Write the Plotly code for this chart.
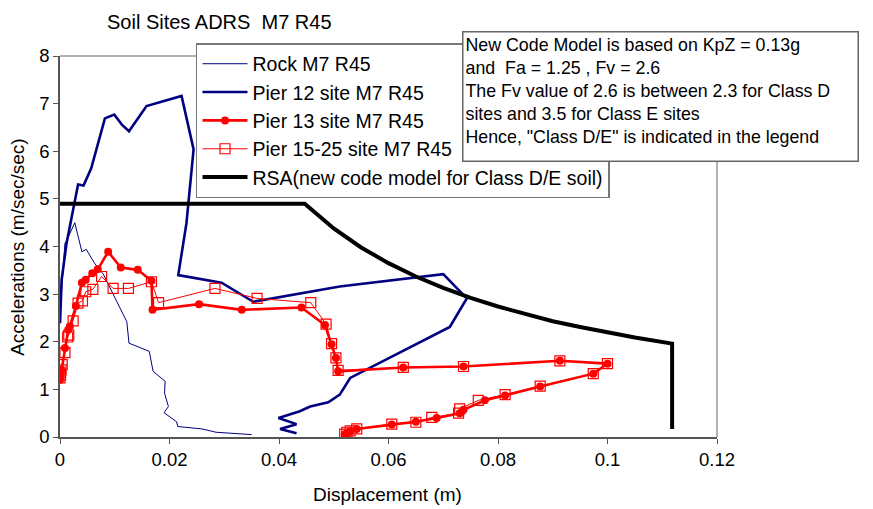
import plotly.graph_objects as go

# Spectral displacement (m) vs spectral acceleration (m/sec/sec) curves
rock_x = [0.0, 0.0009, 0.0012, 0.0027, 0.0040, 0.0048, 0.0063, 0.0070, 0.0079, 0.0122,
          0.0126, 0.0163, 0.0170, 0.0192, 0.0191, 0.0198, 0.0190, 0.0213, 0.0215, 0.0259,
          0.0285, 0.0350]
rock_y = [2.60, 4.07, 4.12, 4.50, 3.89, 3.94, 3.65, 3.55, 3.42, 2.42,
          1.97, 1.80, 1.38, 1.17, 0.92, 0.64, 0.51, 0.32, 0.22, 0.17,
          0.10, 0.05]

pier12_x = [0.0, 0.0003, 0.0012, 0.0033, 0.0043, 0.0057, 0.0082, 0.0099, 0.0113, 0.0126,
            0.0158, 0.0222, 0.0244, 0.0231, 0.0216, 0.0295, 0.0353, 0.0511, 0.0700, 0.0743,
            0.0712, 0.0530, 0.0511, 0.0490, 0.0457, 0.0438, 0.0399, 0.0432, 0.0402, 0.0432]
pier12_y = [2.39, 3.30, 4.07, 5.30, 5.28, 5.64, 6.69, 6.77, 6.56, 6.42,
            6.95, 7.16, 6.04, 4.49, 3.40, 3.24, 2.84, 3.16, 3.42, 2.91,
            2.31, 1.24, 0.89, 0.73, 0.64, 0.54, 0.40, 0.27, 0.17, 0.08]

pier13_x = [0.0, 0.0001, 0.0003, 0.0009, 0.0015, 0.0018, 0.0029, 0.0040, 0.0047, 0.0059,
            0.0069, 0.0088, 0.0111, 0.0142, 0.0167, 0.0169, 0.0254, 0.0332, 0.0441, 0.0484,
            0.0496, 0.0504, 0.0508, 0.0627, 0.0737, 0.0913, 0.1000, 0.0974, 0.0877, 0.0813,
            0.0776, 0.0737, 0.0730, 0.0688, 0.0650, 0.0606, 0.0542, 0.0530, 0.0524, 0.0520]
pier13_y = [1.20, 1.27, 1.41, 1.87, 2.25, 2.32, 2.75, 3.24, 3.30, 3.44,
            3.52, 3.89, 3.56, 3.51, 3.28, 2.67, 2.79, 2.67, 2.72, 2.35,
            1.95, 1.66, 1.38, 1.46, 1.48, 1.60, 1.54, 1.33, 1.06, 0.87,
            0.77, 0.57, 0.50, 0.40, 0.32, 0.26, 0.17, 0.12, 0.08, 0.05]

pier15_x = [0.0, 0.0001, 0.0002, 0.0004, 0.0009, 0.0014, 0.0016, 0.0024, 0.0033, 0.0041,
            0.0047, 0.0060, 0.0076, 0.0097, 0.0125, 0.0167, 0.0180, 0.0283, 0.0360, 0.0458,
            0.0486, 0.0496, 0.0504, 0.0508, 0.0627, 0.0737, 0.0913, 0.1000, 0.0974, 0.0877,
            0.0813, 0.0764, 0.0730, 0.0728, 0.0679, 0.0650, 0.0606, 0.0542, 0.0530, 0.0524,
            0.0520]
pier15_y = [1.24, 1.30, 1.41, 1.52, 1.77, 2.10, 2.14, 2.44, 2.81, 2.86,
            3.05, 3.10, 3.37, 3.12, 3.12, 3.26, 2.82, 3.12, 2.91, 2.82,
            2.37, 1.96, 1.66, 1.40, 1.46, 1.48, 1.60, 1.54, 1.33, 1.07,
            0.89, 0.77, 0.59, 0.50, 0.41, 0.31, 0.27, 0.17, 0.13, 0.10,
            0.06]

rsa_x = [0.0, 0.0447, 0.050, 0.055, 0.060, 0.065, 0.070, 0.075, 0.080, 0.085,
         0.090, 0.095, 0.100, 0.105, 0.1118, 0.1118]
rsa_y = [4.90, 4.90, 4.38, 3.98, 3.65, 3.37, 3.13, 2.92, 2.74, 2.58,
         2.43, 2.31, 2.19, 2.09, 1.96, 0.17]

x_ticks = [0, 0.02, 0.04, 0.06, 0.08, 0.1, 0.12]
x_tick_text = ["0", "0.02", "0.04", "0.06", "0.08", "0.1", "0.12"]
y_ticks = [0, 1, 2, 3, 4, 5, 6, 7, 8]

NAVY = "#000080"
RED = "#FF0000"
FONT = "Liberation Sans, Arial, sans-serif"

fig = go.Figure()
fig.add_trace(go.Scatter(x=rock_x, y=rock_y, mode="lines", name="Rock M7 R45",
                         line=dict(color=NAVY, width=1)))
fig.add_trace(go.Scatter(x=pier12_x, y=pier12_y, mode="lines", name="Pier 12 site M7 R45",
                         line=dict(color=NAVY, width=2.6)))
fig.add_trace(go.Scatter(x=pier13_x, y=pier13_y, mode="lines+markers", name="Pier 13 site M7 R45",
                         line=dict(color=RED, width=2.6),
                         marker=dict(symbol="circle", size=8, color=RED)))
fig.add_trace(go.Scatter(x=pier15_x, y=pier15_y, mode="lines+markers", name="Pier 15-25 site M7 R45",
                         line=dict(color=RED, width=1),
                         marker=dict(symbol="square-open", size=10, color=RED,
                                     line=dict(width=1.2, color=RED))))
fig.add_trace(go.Scatter(x=rsa_x, y=rsa_y, mode="lines",
                         name="RSA(new code model for Class D/E soil)",
                         line=dict(color="black", width=4)))

axis_common = dict(showgrid=False, zeroline=False, showline=True, linecolor="#555555",
                   linewidth=1.5, ticks="outside", ticklen=5, tickcolor="#555555",
                   tickfont=dict(family=FONT, size=18.5, color="black"))

fig.update_xaxes(range=[0, 0.12], tickvals=x_ticks, ticktext=x_tick_text, **axis_common)
fig.update_yaxes(range=[0, 8], tickvals=y_ticks, **axis_common)

# frame on the top and right sides
fig.add_shape(type="line", xref="paper", yref="paper", x0=0, x1=1, y0=1, y1=1,
              line=dict(color="#999999", width=1.5))
fig.add_shape(type="line", xref="paper", yref="paper", x0=1, x1=1, y0=0, y1=1,
              line=dict(color="#999999", width=1.5))

fig.add_annotation(text="Soil Sites ADRS\u00a0\u00a0M7 R45", xref="paper", yref="paper",
                   x=0.0685, y=1.089, xanchor="left", yanchor="middle", showarrow=False,
                   font=dict(family=FONT, size=20, color="black"))
fig.add_annotation(text="Accelerations (m/sec/sec)", xref="paper", yref="paper",
                   x=-0.064, y=0.499, xanchor="center", yanchor="middle", textangle=-90,
                   showarrow=False, font=dict(family=FONT, size=19, color="black"))
fig.add_annotation(text="Displacement (m)", xref="paper", yref="paper",
                   x=0.499, y=-0.152, xanchor="center", yanchor="middle",
                   showarrow=False, font=dict(family=FONT, size=19, color="black"))

note = ("New Code Model is based on KpZ = 0.13g<br>"
        "and\u00a0\u00a0Fa = 1.25 , Fv = 2.6<br>"
        "The Fv value of 2.6 is between 2.3 for Class D<br>"
        "sites and 3.5 for Class E sites<br>"
        "Hence, \"Class D/E\" is indicated in the legend")
fig.add_annotation(text=note, xref="paper", yref="paper", x=0.612, y=1.066,
                   xanchor="left", yanchor="top", align="left", valign="top",
                   width=390, height=124, showarrow=False,
                   bgcolor="white", bordercolor="#666666", borderwidth=1.5, borderpad=2,
                   font=dict(family=FONT, size=17.8, color="black"))

fig.update_layout(
    width=873, height=509,
    margin=dict(l=60, r=156, t=56, b=72),
    paper_bgcolor="white", plot_bgcolor="white",
    showlegend=True,
    legend=dict(x=0.207, y=1.034, xanchor="left", yanchor="top",
                bgcolor="white", bordercolor="#777777", borderwidth=1.5,
                font=dict(family=FONT, size=19.5, color="black"),
                itemwidth=45, tracegroupgap=0),
)

fig.write_html("out.html")
